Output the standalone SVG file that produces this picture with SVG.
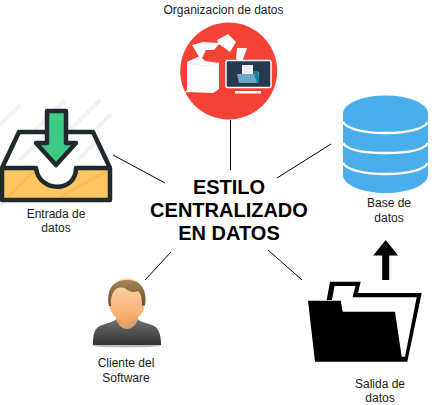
<svg xmlns="http://www.w3.org/2000/svg" width="441" height="405" viewBox="0 0 441 405">
<style>
text{font-family:"Liberation Sans",Arial,sans-serif;fill:#1a1a1a;text-anchor:middle}
.l{font-size:12px}
.t{font-size:20px;font-weight:bold;fill:#000}
.c{stroke:#000;stroke-width:1;fill:none}
.h{stroke:#f2f2f2;stroke-width:4;fill:none}
</style>
<defs>
<linearGradient id="skin" x1="0" y1="0" x2="0" y2="1"><stop offset="0" stop-color="#ffd9ad"/><stop offset="1" stop-color="#f3a567"/></linearGradient>
<linearGradient id="shirt" x1="0" y1="0" x2="0" y2="1"><stop offset="0" stop-color="#777"/><stop offset="1" stop-color="#333"/></linearGradient>
<linearGradient id="hair" x1="0" y1="0" x2="0" y2="1"><stop offset="0" stop-color="#a58458"/><stop offset="1" stop-color="#6b4c2a"/></linearGradient>
</defs>
<g id="connectors">
<line class="c" x1="230.500" y1="120" x2="230.500" y2="170"/>
<line class="c" x1="113" y1="155" x2="165" y2="183"/>
<line class="c" x1="331" y1="144" x2="277" y2="178"/>
<line class="c" x1="145" y1="280" x2="171" y2="252"/>
<line class="c" x1="268" y1="250" x2="302" y2="280"/>
</g>
<g id="center"><text class="t" x="229" y="194">ESTILO</text><text class="t" x="229" y="217">CENTRALIZADO</text><text class="t" x="229" y="240">EN DATOS</text></g>
<g id="organizacion">
<circle cx="228.700" cy="71" r="48.500" fill="#f44336"/>
<path d="M187 62l13-6 5 5 14 2v26l-6 4-26-1-3 2 3-4z" fill="#fff"/>
<path d="M187 63l18 3 14-3" fill="none" stroke="#eee"/>
<path d="M192 45l11-3 15 1 -1-3 11-6 8 8-6 10-11-8-5 6-8 0-5 10z" fill="#fff"/>
<path d="M237 48h10l-5 14-6-3z" fill="#fff"/>
<rect x="226" y="60.500" width="45" height="27" rx="1.500" fill="#263a4f" stroke="#fff" stroke-width="1.500"/>
<rect x="235" y="91" width="26" height="2.500" fill="#fff"/>
<rect x="242" y="65" width="11" height="9" fill="#eee"/>
<path d="M237 74h16l3-2h3l-1 11h-19z" fill="#6aa9c0"/>
<path d="M253 71h5l1 12h-2z" fill="#1b7fa3"/>
<text class="l" x="223.500" y="14">Organizacion de datos</text>
</g>
<g id="entrada">
<path class="h" d="M0 125l20-20M0 165l65-65M70 130l30-30M95 130l16-16M0 205l20-20M70 200l41-41"/>
<path d="M19 132h74l18 36H2z" fill="#fff"/>
<path class="h" d="M20 160l25-25M78 160l25-25M60 130l8-8"/>
<path d="M2 168h34c3 25 40 25 40 0h34v32H2z" fill="#fec560"/>
<path d="M8 197l28-28M60 197l50-28" stroke="#f0b64f" stroke-width="3" fill="none" opacity=".6"/>
<path d="M2 168h34c3 25 40 25 40 0h34v32H2z M2 168L19 132h74l17 36" fill="none" stroke="#1f2a2c" stroke-width="4.500" stroke-linejoin="round"/>
<path d="M47 111h19v32h10l-20 22-20-22h11z" fill="#3ecb87" stroke="#1f2a2c" stroke-width="4.500" stroke-linejoin="round"/>
<text class="l" x="56" y="218">Entrada de</text><text class="l" x="56" y="232">datos</text>
</g>
<g id="base">
<path d="M343 113v62c0 10 19 18 42.500 18s42.500-8 42.500-18v-62z" fill="#4aaeea"/>
<ellipse cx="385.500" cy="113.500" rx="42.500" ry="18" fill="#4aaeea"/>
<path d="M343 122c4 7 21 11 42.500 11s38.500-4 42.500-11M343 143c4 7 21 10 42.500 10s38.500-3 42.500-10M343 163c4 7 21 11 42.500 11s38.500-4 42.500-11" fill="none" stroke="#fff" stroke-width="2.500"/>
<text class="l" x="389" y="207">Base de</text><text class="l" x="389" y="222">datos</text>
</g>
<g id="salida">
<path d="M385.700 240l12.500 15.500h-9V280h-7v-24.500h-9z" fill="#000"/>
<path d="M326.700 300L330 281.700H360.700L358 293H421.700L407.300 361.700H315L308 300.700H340.700L342.700 311.700H395L401.700 356.700H405L416.700 297.300H352.500L355.500 286H334.500L332 300Z" fill="#000"/>
<text class="l" x="380" y="388">Salida de</text><text class="l" x="380" y="402">datos</text>
</g>
<g id="cliente">
<ellipse cx="127" cy="345.500" rx="34" ry="2" fill="#bbb"/>
<path d="M93 345c0-11 1-17 9-20 9-3 15-4 17-9h16c2 5 8 6 17 9 7 3 9 9 9 20z" fill="url(#shirt)"/>
<path d="M116 312h22v8c-3 6-7 9-11 9s-8-3-11-9z" fill="#e0a06a"/>
<ellipse cx="127" cy="300" rx="18.500" ry="22" fill="url(#skin)"/>
<path d="M109 306c-3-18 5-26 18-26 14 0 20 9 18 25l-3 1c0-8-1-13-4-15-4 2-9 1-12-2-3-2-8-2-11 1-3 3-5 9-4 16z" fill="url(#hair)"/>
<text class="l" x="126" y="367">Cliente del</text><text class="l" x="126" y="381.500">Software</text>
</g>
</svg>
